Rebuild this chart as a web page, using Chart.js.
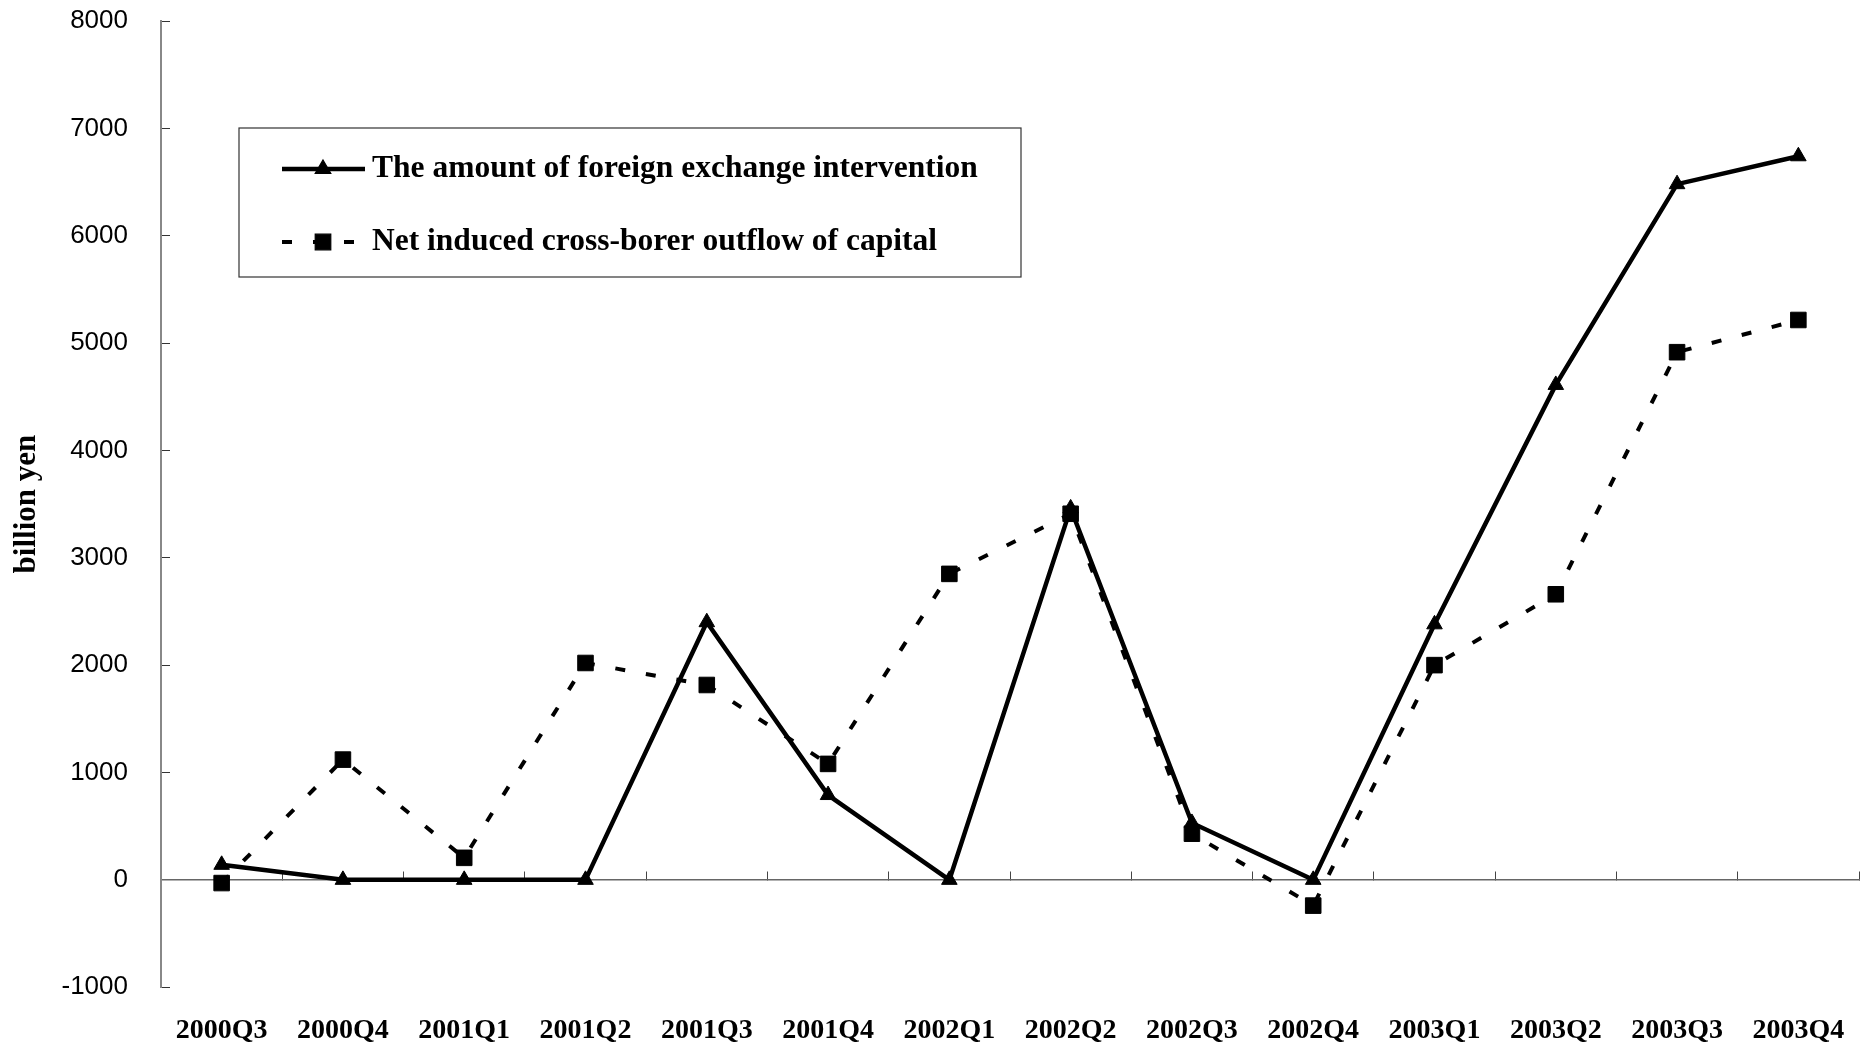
<!DOCTYPE html>
<html>
<head>
<meta charset="utf-8">
<title>Foreign exchange intervention and capital outflow</title>
<script src="https://cdn.jsdelivr.net/npm/chart.js@4/dist/chart.umd.min.js"></script>
<style>
  html, body { margin: 0; padding: 0; background: #ffffff; }
  #wrap { width: 1861px; height: 1045px; position: relative; }
</style>
</head>
<body>
<div id="wrap"><canvas id="chart" width="1861" height="1045"></canvas></div>
<script>
// Quarterly figures, billion yen
const quarters = ['2000Q3', '2000Q4', '2001Q1', '2001Q2', '2001Q3', '2001Q4', '2002Q1',
                  '2002Q2', '2002Q3', '2002Q4', '2003Q1', '2003Q2', '2003Q3', '2003Q4'];
const interventionValues = [140, 0, 0, 0, 2400, 790, 0, 3460, 530, 0, 2380, 4610, 6480, 6740];
const outflowValues = [-30, 1120, 205, 2020, 1815, 1080, 2850, 3410, 430, -240, 2000, 2660, 4915, 5215];
const seriesNames = ['The amount of foreign exchange intervention',
                     'Net induced cross-borer outflow of capital'];
const yAxisTitle = 'billion yen';
const yRange = { min: -1000, max: 8000, step: 1000 };

const SERIF = "'Liberation Serif', 'Times New Roman', serif";
const SANS = "'Liberation Sans', Arial, sans-serif";

const solidStyle = { width: 4.5, dash: [], point: 'triangle', radius: 9 };
const dashedStyle = { width: 4, dash: [10, 21], point: 'rect', radius: 11 };

// Boxed legend inside the plot, two rows with line samples
const boxedLegend = {
  id: 'boxedLegend',
  afterDraw(chart) {
    const ctx = chart.ctx;
    const box = { x: 239, y: 128, w: 782, h: 149 };
    ctx.save();
    ctx.strokeStyle = '#333';
    ctx.lineWidth = 1.2;
    ctx.strokeRect(box.x, box.y, box.w, box.h);

    const rows = [
      { y: 169, style: solidStyle, text: seriesNames[0] },
      { y: 242, style: dashedStyle, text: seriesNames[1] }
    ];
    rows.forEach(r => {
      ctx.save();
      ctx.strokeStyle = '#000';
      ctx.lineWidth = r.style.width;
      ctx.lineCap = 'butt';
      ctx.setLineDash(r.style.dash);
      ctx.beginPath();
      ctx.moveTo(282, r.y);
      ctx.lineTo(365, r.y);
      ctx.stroke();
      ctx.restore();
      ctx.fillStyle = '#000';
      ctx.strokeStyle = '#000';
      Chart.helpers.drawPoint(ctx, {
        pointStyle: r.style.point, radius: r.style.radius, rotation: 0, borderWidth: 1
      }, 323, r.y);
      ctx.fillStyle = '#000';
      ctx.font = 'bold 31.5px ' + SERIF;
      ctx.textAlign = 'left';
      ctx.textBaseline = 'middle';
      ctx.fillText(r.text, 372, r.y);
    });
    ctx.restore();
  }
};

new Chart(document.getElementById('chart'), {
  type: 'line',
  data: {
    labels: quarters,
    datasets: [
      {
        label: seriesNames[0],
        data: interventionValues,
        borderColor: '#000',
        backgroundColor: '#000',
        borderWidth: solidStyle.width,
        pointStyle: solidStyle.point,
        pointRadius: solidStyle.radius,
        pointBackgroundColor: '#000',
        pointBorderColor: '#000',
        pointBorderWidth: 1,
        tension: 0,
        fill: false
      },
      {
        label: seriesNames[1],
        data: outflowValues,
        borderColor: '#000',
        backgroundColor: '#000',
        borderWidth: dashedStyle.width,
        borderDash: dashedStyle.dash,
        borderCapStyle: 'butt',
        pointStyle: dashedStyle.point,
        pointRadius: dashedStyle.radius,
        pointBackgroundColor: '#000',
        pointBorderColor: '#000',
        pointBorderWidth: 1,
        tension: 0,
        fill: false
      }
    ]
  },
  options: {
    responsive: false,
    animation: false,
    events: [],
    layout: { autoPadding: false, padding: { top: 21, right: 2, left: 0, bottom: 0 } },
    plugins: {
      legend: { display: false },
      tooltip: { enabled: false }
    },
    scales: {
      x: {
        type: 'category',
        position: 'bottom',
        offset: true,
        grid: { display: false, drawTicks: false },
        border: { display: false },
        ticks: {
          color: '#000',
          font: { family: SERIF, weight: 'bold', size: 28 },
          padding: 27,
          maxRotation: 0,
          autoSkip: false
        },
        afterFit(scale) {
          scale.height = 57.8;
          scale.paddingLeft = 0;
          scale.paddingRight = 0;
        }
      },
      xZero: {
        type: 'category',
        axis: 'x',
        position: { y: 0 },
        offset: true,
        grid: {
          offset: true,
          drawOnChartArea: false,
          drawTicks: true,
          tickLength: -9,
          color: '#444',
          lineWidth: 1
        },
        border: { display: true, color: '#666', width: 1.5 },
        ticks: { display: false },
        afterFit(scale) {
          scale.height = 0;
          scale.paddingLeft = 0;
          scale.paddingRight = 0;
        }
      },
      y: {
        type: 'linear',
        position: 'left',
        min: yRange.min,
        max: yRange.max,
        ticks: {
          stepSize: yRange.step,
          color: '#000',
          font: { family: SANS, size: 26 },
          padding: 42,
          callback: (value) => String(value)
        },
        grid: {
          drawOnChartArea: false,
          drawTicks: true,
          tickLength: -9,
          color: '#333',
          lineWidth: 1
        },
        border: { display: true, color: '#888', width: 2 },
        title: {
          display: true,
          text: yAxisTitle,
          color: '#000',
          font: { family: SERIF, weight: 'bold', size: 31 },
          padding: { top: 8, bottom: 0 }
        },
        afterFit(scale) {
          scale.width = 161;
          scale.paddingTop = 0;
          scale.paddingBottom = 0;
        }
      }
    }
  },
  plugins: [boxedLegend]
});
</script>
</body>
</html>
